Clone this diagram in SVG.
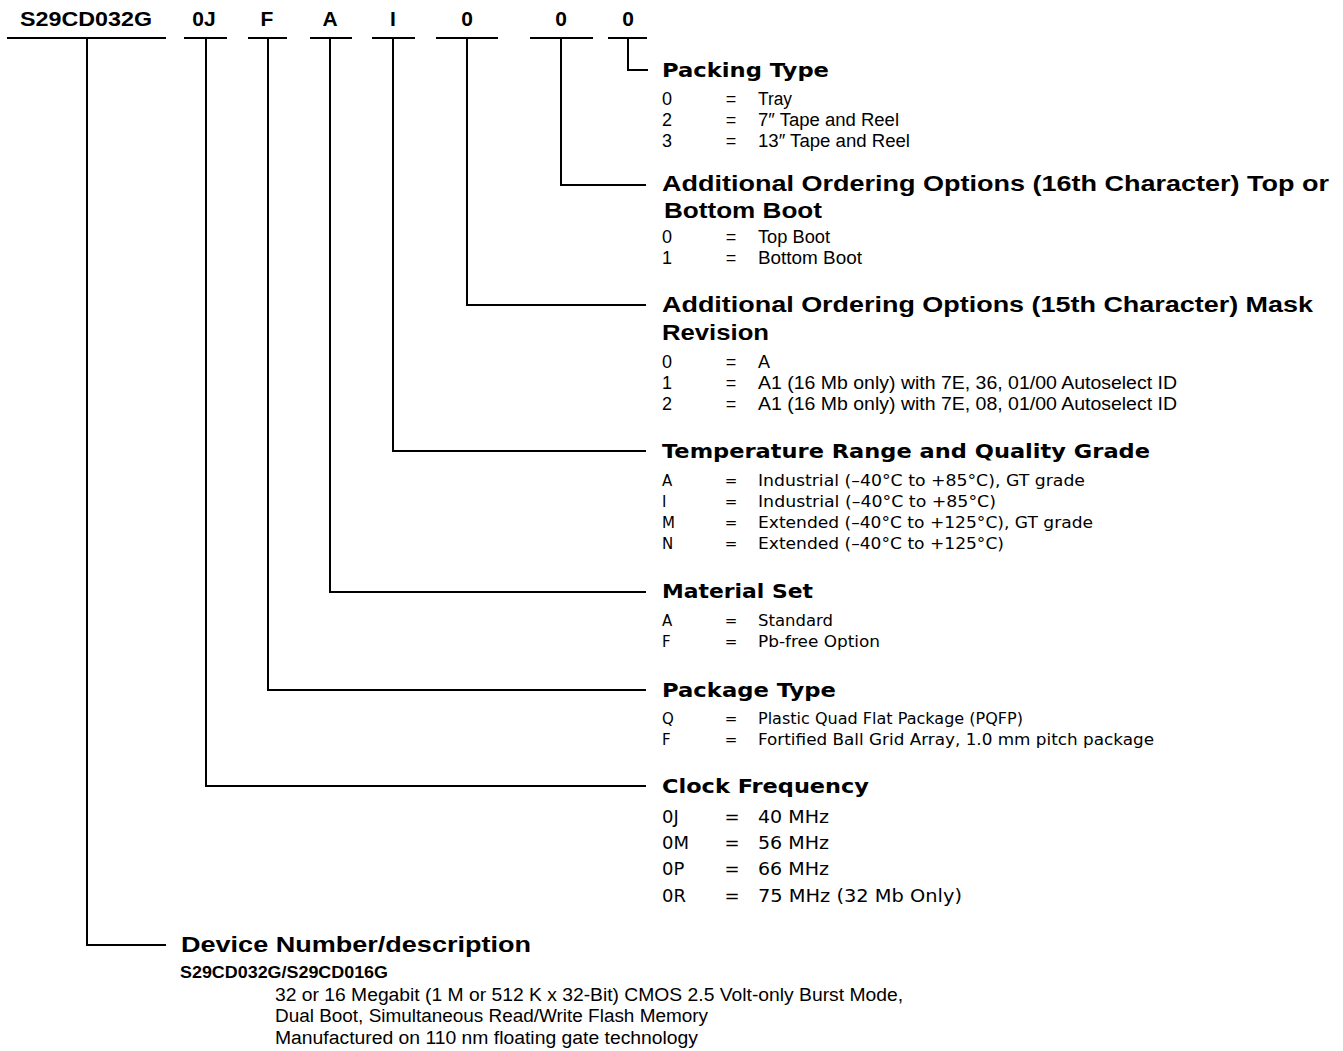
<svg xmlns="http://www.w3.org/2000/svg" width="1343" height="1051" viewBox="0 0 1343 1051">
<style>
.code{font-family:"Liberation Sans",Arial,sans-serif;font-weight:bold;font-size:21px;text-anchor:middle;fill:#000}
.h1{font-family:"DejaVu Sans",Verdana,sans-serif;font-weight:bold;font-size:19px;fill:#000}
.h2{font-family:"Liberation Sans",Arial,sans-serif;font-weight:bold;font-size:22px;fill:#000}
.row{font-family:"DejaVu Sans",Verdana,sans-serif;font-size:15px;fill:#000}
.rowc{font-family:"Liberation Sans",Arial,sans-serif;font-size:18px;fill:#000}
.rowk{font-family:"DejaVu Sans",Verdana,sans-serif;font-size:18px;fill:#000}
.eq{text-anchor:middle}
.ln{stroke:#000;stroke-width:2;fill:none}
.sub{font-family:"Liberation Sans",Arial,sans-serif;font-weight:bold;font-size:16px;fill:#000}
</style>
<rect width="1343" height="1051" fill="#fff"/>

<g id="part-number">
<text class="code" x="86" y="26" textLength="132" lengthAdjust="spacingAndGlyphs">S29CD032G</text>
<text class="code" x="204" y="26">0J</text>
<text class="code" x="267" y="26">F</text>
<text class="code" x="330" y="26">A</text>
<text class="code" x="393" y="26">I</text>
<text class="code" x="467" y="26">0</text>
<text class="code" x="561" y="26">0</text>
<text class="code" x="628" y="26">0</text>
<path class="ln" d="M7 38H166M184 38H227M248 38H287M310 38H352M372 38H415M436 38H498M530 38H593M608 38H647"/>
</g>

<g id="connectors">
<path class="ln" d="M628 38V70H648"/>
<path class="ln" d="M561 38V185H646"/>
<path class="ln" d="M467 38V305H646"/>
<path class="ln" d="M393 38V451H646"/>
<path class="ln" d="M330 38V592H646"/>
<path class="ln" d="M268 38V690H646"/>
<path class="ln" d="M206 38V786H646"/>
<path class="ln" d="M87 38V945H166"/>
</g>

<g id="packing-type">
<text class="h1" x="662" y="77" textLength="167" lengthAdjust="spacingAndGlyphs">Packing Type</text>
<text class="rowc" x="662" y="105">0</text><text class="rowc eq" x="731" y="105">=</text><text class="rowc" x="758" y="105" textLength="34" lengthAdjust="spacingAndGlyphs">Tray</text>
<text class="rowc" x="662" y="126">2</text><text class="rowc eq" x="731" y="126">=</text><text class="rowc" x="758" y="126" textLength="141" lengthAdjust="spacingAndGlyphs">7″ Tape and Reel</text>
<text class="rowc" x="662" y="147">3</text><text class="rowc eq" x="731" y="147">=</text><text class="rowc" x="758" y="147" textLength="152" lengthAdjust="spacingAndGlyphs">13″ Tape and Reel</text>
</g>

<g id="boot-option">
<text class="h2" x="662" y="191" textLength="667" lengthAdjust="spacingAndGlyphs">Additional Ordering Options (16th Character) Top or</text>
<text class="h2" x="664" y="218" textLength="158" lengthAdjust="spacingAndGlyphs">Bottom Boot</text>
<text class="rowc" x="662" y="243">0</text><text class="rowc eq" x="731" y="243">=</text><text class="rowc" x="758" y="243" textLength="72" lengthAdjust="spacingAndGlyphs">Top Boot</text>
<text class="rowc" x="662" y="264">1</text><text class="rowc eq" x="731" y="264">=</text><text class="rowc" x="758" y="264" textLength="104" lengthAdjust="spacingAndGlyphs">Bottom Boot</text>
</g>

<g id="mask-revision">
<text class="h2" x="662" y="312" textLength="651" lengthAdjust="spacingAndGlyphs">Additional Ordering Options (15th Character) Mask</text>
<text class="h2" x="662" y="340" textLength="107" lengthAdjust="spacingAndGlyphs">Revision</text>
<text class="rowc" x="662" y="368">0</text><text class="rowc eq" x="731" y="368">=</text><text class="rowc" x="758" y="368">A</text>
<text class="rowc" x="662" y="389">1</text><text class="rowc eq" x="731" y="389">=</text><text class="rowc" x="758" y="389" textLength="419" lengthAdjust="spacingAndGlyphs">A1 (16 Mb only) with 7E, 36, 01/00 Autoselect ID</text>
<text class="rowc" x="662" y="410">2</text><text class="rowc eq" x="731" y="410">=</text><text class="rowc" x="758" y="410" textLength="419" lengthAdjust="spacingAndGlyphs">A1 (16 Mb only) with 7E, 08, 01/00 Autoselect ID</text>
</g>

<g id="temperature">
<text class="h1" x="662" y="458" textLength="488" lengthAdjust="spacingAndGlyphs">Temperature Range and Quality Grade</text>
<text class="row" x="662" y="486">A</text><text class="row eq" x="731" y="486">=</text><text class="row" x="758" y="486" textLength="327" lengthAdjust="spacingAndGlyphs">Industrial (–40°C to +85°C), GT grade</text>
<text class="row" x="662" y="507">I</text><text class="row eq" x="731" y="507">=</text><text class="row" x="758" y="507" textLength="238" lengthAdjust="spacingAndGlyphs">Industrial (–40°C to +85°C)</text>
<text class="row" x="662" y="528">M</text><text class="row eq" x="731" y="528">=</text><text class="row" x="758" y="528" textLength="335" lengthAdjust="spacingAndGlyphs">Extended (–40°C to +125°C), GT grade</text>
<text class="row" x="662" y="549">N</text><text class="row eq" x="731" y="549">=</text><text class="row" x="758" y="549" textLength="246" lengthAdjust="spacingAndGlyphs">Extended (–40°C to +125°C)</text>
</g>

<g id="material-set">
<text class="h1" x="662" y="598" textLength="151" lengthAdjust="spacingAndGlyphs">Material Set</text>
<text class="row" x="662" y="626">A</text><text class="row eq" x="731" y="626">=</text><text class="row" x="758" y="626" textLength="75" lengthAdjust="spacingAndGlyphs">Standard</text>
<text class="row" x="662" y="647">F</text><text class="row eq" x="731" y="647">=</text><text class="row" x="758" y="647" textLength="122" lengthAdjust="spacingAndGlyphs">Pb-free Option</text>
</g>

<g id="package-type">
<text class="h1" x="662" y="697" textLength="174" lengthAdjust="spacingAndGlyphs">Package Type</text>
<text class="row" x="662" y="724">Q</text><text class="row eq" x="731" y="724">=</text><text class="row" x="758" y="724" textLength="265" lengthAdjust="spacingAndGlyphs">Plastic Quad Flat Package (PQFP)</text>
<text class="row" x="662" y="745">F</text><text class="row eq" x="731" y="745">=</text><text class="row" x="758" y="745" textLength="396" lengthAdjust="spacingAndGlyphs">Fortified Ball Grid Array, 1.0 mm pitch package</text>
</g>

<g id="clock-frequency">
<text class="h1" x="662" y="793" textLength="207" lengthAdjust="spacingAndGlyphs">Clock Frequency</text>
<text class="rowk" x="662" y="823">0J</text><text class="rowk eq" x="732" y="823">=</text><text class="rowk" x="758" y="823" textLength="71" lengthAdjust="spacingAndGlyphs">40 MHz</text>
<text class="rowk" x="662" y="849">0M</text><text class="rowk eq" x="732" y="849">=</text><text class="rowk" x="758" y="849" textLength="71" lengthAdjust="spacingAndGlyphs">56 MHz</text>
<text class="rowk" x="662" y="875">0P</text><text class="rowk eq" x="732" y="875">=</text><text class="rowk" x="758" y="875" textLength="71" lengthAdjust="spacingAndGlyphs">66 MHz</text>
<text class="rowk" x="662" y="902">0R</text><text class="rowk eq" x="732" y="902">=</text><text class="rowk" x="758" y="902" textLength="204" lengthAdjust="spacingAndGlyphs">75 MHz (32 Mb Only)</text>
</g>

<g id="device-number">
<text class="h2" x="181" y="952" textLength="350" lengthAdjust="spacingAndGlyphs">Device Number/description</text>
<text class="sub" x="180" y="978" textLength="208" lengthAdjust="spacingAndGlyphs">S29CD032G/S29CD016G</text>
<text class="rowc" x="275" y="1001" textLength="628" lengthAdjust="spacingAndGlyphs">32 or 16 Megabit (1 M or 512 K x 32-Bit) CMOS 2.5 Volt-only Burst Mode,</text>
<text class="rowc" x="275" y="1022" textLength="433" lengthAdjust="spacingAndGlyphs">Dual Boot, Simultaneous Read/Write Flash Memory</text>
<text class="rowc" x="275" y="1044" textLength="423" lengthAdjust="spacingAndGlyphs">Manufactured on 110 nm floating gate technology</text>
</g>
</svg>
